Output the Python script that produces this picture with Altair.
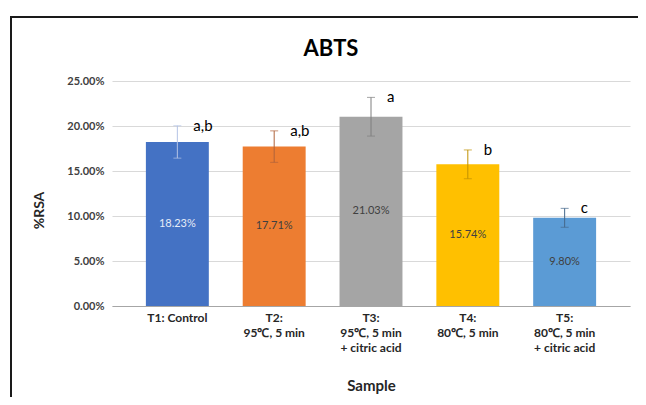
import altair as alt
import pandas as pd

categories = ["T1: Control", "T2:|95℃, 5 min", "T3:|95℃, 5 min|+ citric acid",
              "T4:|80℃, 5 min", "T5:|80℃, 5 min|+ citric acid"]
values = [18.23, 17.71, 21.03, 15.74, 9.80]
errors = [1.80, 1.75, 2.15, 1.60, 1.05]
letters = ["a,b", "a,b", "a", "b", "c"]
bar_colors = ["#4472C4", "#ED7D31", "#A5A5A5", "#FFC000", "#5B9BD5"]
err_colors = ["#B4C3E6", "#B0623A", "#7F7F7F", "#BF9000", "#44678A"]
label_colors = ["#E6ECF7", "#404040", "#404040", "#404040", "#404040"]
y_ticks = [0, 0.05, 0.10, 0.15, 0.20, 0.25]

df = pd.DataFrame({
    "cat": categories,
    "val": [v / 100 for v in values],
    "half": [v / 200 for v in values],
    "lo": [(v - e) / 100 for v, e in zip(values, errors)],
    "hi": [(v + e) / 100 for v, e in zip(values, errors)],
    "letter": letters,
    "errc": err_colors,
    "labc": label_colors,
    "label": [f"{v:.2f}%" for v in values],
})

FONT = "Lato"
W, H = 518, 225
PAD = {"left": 104, "top": 73, "right": 8, "bottom": 91}

xenc = alt.X("cat:N", sort=categories,
             scale=alt.Scale(paddingInner=0.35, paddingOuter=0.35),
             axis=alt.Axis(labelAngle=0, labelExpr="split(datum.value, '|')",
                           labelFont=FONT, labelFontWeight="bold", labelFontSize=12,
                           labelLineHeight=15, labelColor="#262626", labelPadding=6,
                           ticks=False, domainColor="#A6A6A6", domainWidth=1,
                           grid=False, title="Sample", titleFont=FONT, titleFontSize=15,
                           titleFontWeight="bold", titleColor="#262626",
                           titleX=259, titleY=84, titleBaseline="alphabetic",
                           titleAlign="center"))

yscale = alt.Scale(domain=[0, 0.25], nice=False)

base = alt.Chart(df)

bars = base.mark_bar().encode(
    x=xenc,
    y=alt.Y("val:Q", scale=yscale,
            axis=alt.Axis(format=".2%", values=y_ticks, labelFont=FONT,
                          labelFontWeight="bold", labelFontSize=11, labelColor="#404040",
                          ticks=False, domain=False, labelPadding=8,
                          gridColor="#D9D9D9", gridWidth=1,
                          title="%RSA", titleFont=FONT, titleFontSize=14,
                          titleFontWeight="bold", titleColor="#262626",
                          titleX=-69, titleY=129, titleBaseline="alphabetic",
                          titleAlign="center")),
    color=alt.Color("cat:N", sort=categories,
                    scale=alt.Scale(domain=categories, range=bar_colors), legend=None),
)

rules = base.mark_rule(strokeWidth=1).encode(
    x=alt.X("cat:N", sort=categories), y=alt.Y("lo:Q", scale=yscale), y2="hi:Q",
    color=alt.Color("errc:N", scale=None),
)
caps_hi = base.mark_tick(size=8, thickness=1).encode(
    x=alt.X("cat:N", sort=categories), y=alt.Y("hi:Q", scale=yscale),
    color=alt.Color("errc:N", scale=None),
)
caps_lo = base.mark_tick(size=8, thickness=1).encode(
    x=alt.X("cat:N", sort=categories), y=alt.Y("lo:Q", scale=yscale),
    color=alt.Color("errc:N", scale=None),
)

vlabels = base.mark_text(font=FONT, fontSize=11, baseline="middle").encode(
    x=alt.X("cat:N", sort=categories), y=alt.Y("half:Q", scale=yscale),
    text="label:N", color=alt.Color("labc:N", scale=None),
)

sig = base.mark_text(font=FONT, fontSize=15, align="left", baseline="middle",
                     dx=16, dy=0, color="#000000").encode(
    x=alt.X("cat:N", sort=categories), y=alt.Y("hi:Q", scale=yscale),
    text="letter:N",
)

one = alt.Chart(pd.DataFrame({"t": ["ABTS"]}))
title = one.mark_text(font=FONT, fontSize=22, fontWeight="bold", align="center",
                      baseline="alphabetic", color="#000000").encode(
    x=alt.value(219), y=alt.value(-25), text="t:N")

frame_top = one.mark_rule(stroke="#1A1A1A", strokeWidth=2).encode(
    x=alt.value(-101), x2=alt.value(W + PAD["right"]), y=alt.value(-64))
frame_left = one.mark_rule(stroke="#1A1A1A", strokeWidth=2).encode(
    x=alt.value(-101), y=alt.value(-65), y2=alt.value(H + PAD["bottom"]))

chart = alt.layer(bars, rules, caps_hi, caps_lo, vlabels, sig, title,
                  frame_top, frame_left).properties(
    width=W, height=H,
    autosize=alt.AutoSizeParams(type="none"),
    padding=PAD,
).configure_view(stroke=None)

chart.save("out.html", embed_options={"renderer": "svg", "actions": False})
